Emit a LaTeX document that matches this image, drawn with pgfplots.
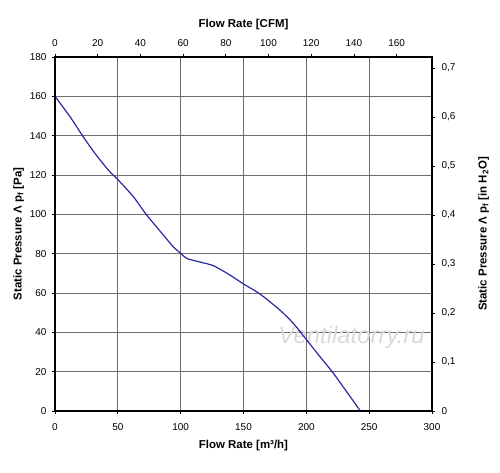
\documentclass[border=0pt]{standalone}
\usepackage{fontspec}
\setmainfont{Liberation Sans}
\usepackage{pgfplots}
\pgfplotsset{compat=1.18}
\definecolor{curve}{RGB}{40,40,160}
\definecolor{gridc}{RGB}{110,110,110}
\begin{document}
\begin{tikzpicture}
\pgfplotsset{
  common/.style={
    scale only axis, width=377bp, height=354bp,
    at={(0,0)}, anchor=south west,
    axis line style={black, line width=1.3pt},
    tick align=outside, major tick length=3bp,
    tick style={black, line width=0.8pt},
    tick label style={font=\fontsize{10}{11}\selectfont},
    label style={font=\bfseries\fontsize{11.5}{13}\selectfont},
    /pgf/number format/assume math mode=true,
  }
}
\begin{axis}[common,
  xmin=0, xmax=300, ymin=0, ymax=180,
  xtick={0,50,...,300}, ytick={0,20,...,180},
  xtick pos=bottom, ytick pos=left,
  grid=major, major grid style={gridc, line width=0.7pt},
  xticklabel style={yshift=-6bp},
  yticklabel style={xshift=-2bp},
  xlabel={Flow Rate [m³/h]},
  ylabel={Static Pressure Λ p\textsubscript{f} [Pa]},
  xlabel style={yshift=-3bp},
  ylabel style={yshift=-1bp},
]
\node[text=gray!30, font=\itshape\fontsize{24}{26}\selectfont] at (axis cs:236,37.6) {Ventilatorry.ru};
\addplot[curve, line width=1.2pt, smooth, tension=0.4] coordinates {
(0,160) (12,149.6) (22.5,139.4) (31.8,131) (42.4,122.5) (50.4,117.4) (62.3,109)
(73,99.6) (86.2,89.5) (94.1,83.5) (100,80.2) (104.8,77.6) (115,75.8) (126,73.9)
(139.3,69.1) (150,64.6) (163.1,59.5) (179,51.3) (189.6,44.6) (200.3,36.1)
(210.9,27.6) (221.5,19.2) (232.1,9.8) (242.7,0.3)
};
\end{axis}
\begin{axis}[common,
  xmin=0, xmax=176.57, ymin=0, ymax=0.72264,
  xtick={0,20,...,160}, ytick={0,0.1,...,0.7},
  xtick pos=top, ytick pos=right,
  xticklabel pos=top, yticklabel pos=right,
  xticklabel style={yshift=4bp},
  yticklabel style={xshift=3bp, /pgf/number format/.cd, fixed, precision=1, use comma},
  xlabel={Flow Rate [CFM]},
  ylabel={Static Pressure Λ p\textsubscript{f} [in H\textsubscript{2}O]},
  xlabel style={yshift=3bp},
  ylabel style={yshift=-16bp},
]
\end{axis}
\useasboundingbox (-55bp,-62bp) rectangle (445bp,411bp);
\end{tikzpicture}
\end{document}
